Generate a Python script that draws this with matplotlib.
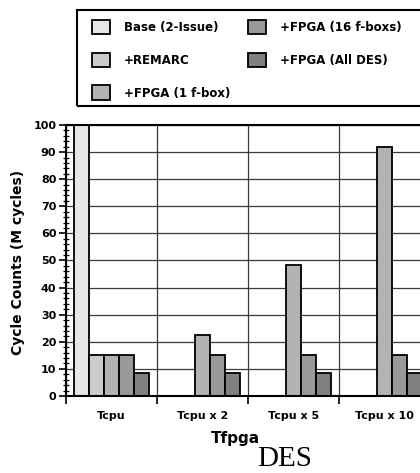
import numpy as np
import matplotlib.pyplot as plt
from matplotlib.patches import Rectangle

# data
groups = ['Tcpu', 'Tcpu x 2', 'Tcpu x 5', 'Tcpu x 10']
series = ['Base (2-Issue)', '+REMARC', '+FPGA (1 f-box)', '+FPGA (16 f-boxs)', '+FPGA (All DES)']
base = [100, 0, 0, 0]
remarc = [15, 0, 0, 0]
fpga_1 = [15, 22.5, 48.5, 91.8]
fpga_16 = [15, 15, 15, 15]
fpga_all = [8.5, 8.5, 8.5, 8.5]
colors = ['#e6e6e6', '#cccccc', '#b3b3b3', '#999999', '#808080']

values = [base, remarc, fpga_1, fpga_16, fpga_all]

fig = plt.figure(figsize=(4.2, 4.73), dpi=100)
W, H = 420, 473
ax = fig.add_axes([66 / W, (H - 396) / H, 364 / W, 271 / H])

bw = 15 / 91
x = np.arange(len(groups)) + 0.5
handles = []
for k, (vals, c, name) in enumerate(zip(values, colors, series)):
    b = ax.bar(x + (k - 2) * bw, vals, bw, color=c, edgecolor='black',
               linewidth=1.3, label=name, zorder=3)
    handles.append(b)

ax.set_xlim(0, 4)
ax.set_ylim(0, 100)

# ticks: boundaries get marks, group centres get the labels
ax.set_xticks([0, 1, 2, 3, 4])
ax.set_xticklabels([])
ax.set_xticks(x, minor=True)
ax.set_xticklabels(groups, minor=True, fontsize=8, fontweight='bold', family='DejaVu Sans')
ax.tick_params(axis='x', which='major', direction='out', length=6, width=1.2)
ax.tick_params(axis='x', which='minor', length=0, pad=11)

ax.set_yticks(np.arange(0, 101, 10))
ax.set_yticks(np.arange(0, 101, 2), minor=True)
ax.tick_params(axis='y', which='major', direction='out', length=5, width=1.2, pad=2)
ax.tick_params(axis='y', which='minor', direction='inout', length=4, width=0.9)
for lab in ax.get_yticklabels():
    lab.set_fontsize(8)
    lab.set_fontweight('bold')
    lab.set_family('DejaVu Sans')

ax.grid(True, which='major', color='#3a3a3a', linewidth=0.9, zorder=0)
for s in ax.spines.values():
    s.set_linewidth(1.5)
    s.set_zorder(4)

fig.text(18 / W, 1 - 262 / H, 'Cycle Counts (M cycles)', rotation=90,
         ha='center', va='center', fontsize=10, fontweight='bold', family='DejaVu Sans')
fig.text(235 / W, 1 - 443 / H, 'Tfpga', ha='center', va='baseline',
         fontsize=11, fontweight='bold', family='DejaVu Sans')
fig.text(285 / W, 1 - 466 / H, 'DES', ha='center', va='baseline',
         fontsize=21, family='Liberation Serif')

# legend
fig.patches.append(Rectangle((77 / W, 1 - 106 / H), 360 / W, 96 / H,
                             transform=fig.transFigure, fill=False,
                             edgecolor='black', linewidth=1.5))
fig.legend(handles=handles, labels=series, ncol=2, frameon=False,
           loc='upper left', bbox_to_anchor=(92 / W, 1 - 20 / H),
           borderpad=0, borderaxespad=0, handlelength=1.5, handleheight=1.5,
           handletextpad=1.2, columnspacing=1.5, labelspacing=1.55,
           prop={'size': 8.5, 'weight': 'bold', 'family': 'DejaVu Sans'})

fig.savefig('out.png', dpi=100)
